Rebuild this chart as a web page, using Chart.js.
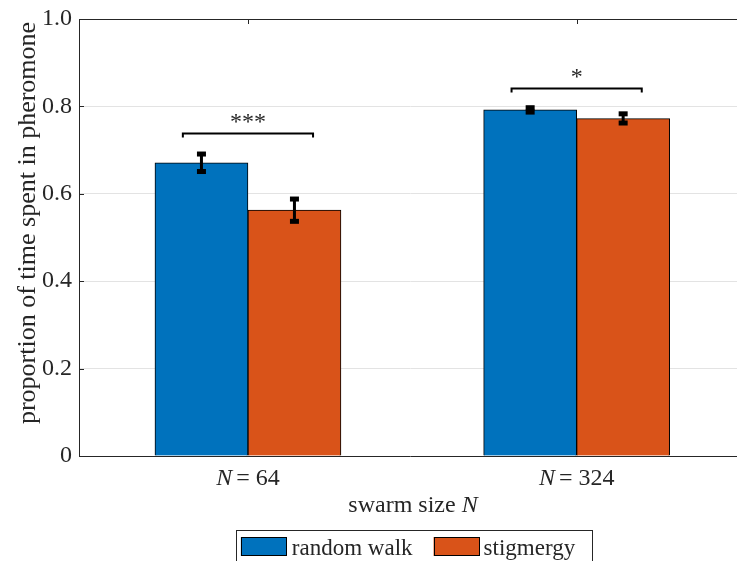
<!DOCTYPE html>
<html lang="en">
<head>
<meta charset="UTF-8">
<title>Proportion of time spent in pheromone</title>
<script src="https://cdn.jsdelivr.net/npm/chart.js"></script>
<style>
    html, body { margin: 0; padding: 0; background: #fff; overflow: hidden; }
    #wrap { position: relative; width: 745px; height: 561px; }
</style>
</head>
<body>
<div id="wrap"><canvas id="chart"></canvas></div>
<script>
// data
const swarmSizes = ['64', '324'];
const seriesNames = ['random walk', 'stigmergy'];
const seriesColors = ['#0072BD', '#D95319'];
const randomWalk = [0.671, 0.792];
const stigmergy = [0.563, 0.772];
const randomWalkLow = [0.651, 0.787];
const randomWalkHigh = [0.691, 0.797];
const stigmergyLow = [0.537, 0.762];
const stigmergyHigh = [0.588, 0.783];
const bracketLevels = [0.740, 0.842];
const bracketStars = ['***', '*'];
const yTitle = 'proportion of time spent in pheromone';

const FONT = "'Liberation Serif', 'Times New Roman', serif";
const INK = '#262626';
Chart.defaults.font.family = FONT;
Chart.defaults.color = INK;

function toPoints(values) {
    return values.map((v, i) => ({ x: i + 1, y: v }));
}

const overlay = {
    id: 'overlay',
    afterDatasetsDraw(chart) {
        const ctx = chart.ctx;
        const y = chart.scales.y;
        const lows = [randomWalkLow, stigmergyLow];
        const highs = [randomWalkHigh, stigmergyHigh];
        ctx.save();
        ctx.fillStyle = '#000';
        ctx.strokeStyle = '#000';
        // error bars
        for (let d = 0; d < 2; d++) {
            chart.getDatasetMeta(d).data.forEach((bar, i) => {
                const top = y.getPixelForValue(highs[d][i]);
                const bot = y.getPixelForValue(lows[d][i]);
                ctx.lineWidth = 3;
                ctx.beginPath();
                ctx.moveTo(bar.x, top);
                ctx.lineTo(bar.x, bot);
                ctx.stroke();
                ctx.fillRect(bar.x - 4.5, top - 2.5, 9, 5);
                ctx.fillRect(bar.x - 4.5, bot - 2.5, 9, 5);
            });
        }
        // significance brackets
        const blue = chart.getDatasetMeta(0).data;
        const orange = chart.getDatasetMeta(1).data;
        ctx.font = '24px ' + FONT;
        ctx.textAlign = 'center';
        ctx.textBaseline = 'alphabetic';
        for (let i = 0; i < bracketLevels.length; i++) {
            const x0 = blue[i].x - blue[i].width * 0.2;
            const x1 = orange[i].x + orange[i].width * 0.2;
            const yy = Math.round(y.getPixelForValue(bracketLevels[i])) + 0.5;
            ctx.lineWidth = 2;
            ctx.beginPath();
            ctx.moveTo(x0, yy + 4);
            ctx.lineTo(x0, yy);
            ctx.lineTo(x1, yy);
            ctx.lineTo(x1, yy + 4);
            ctx.stroke();
            ctx.fillStyle = INK;
            ctx.fillText(bracketStars[i], (x0 + x1) / 2, yy - 5);
        }
        ctx.restore();
    },
    afterDraw(chart) {
        const ctx = chart.ctx;
        const area = chart.chartArea;
        const x = chart.scales.x;
        const y = chart.scales.y;
        ctx.save();
        ctx.strokeStyle = INK;
        ctx.lineWidth = 1;
        // top box line and inner ticks
        ctx.beginPath();
        ctx.moveTo(area.left, Math.round(area.top) + 0.5);
        ctx.lineTo(area.right, Math.round(area.top) + 0.5);
        y.ticks.forEach(t => {
            const py = Math.round(y.getPixelForValue(t.value)) + 0.5;
            ctx.moveTo(area.left, py);
            ctx.lineTo(area.left + 5, py);
        });
        swarmSizes.forEach((s, i) => {
            const px = Math.round(x.getPixelForValue(i + 1)) + 0.5;
            ctx.moveTo(px, area.top);
            ctx.lineTo(px, area.top + 5);
        });
        ctx.stroke();

        ctx.fillStyle = INK;
        ctx.textBaseline = 'alphabetic';
        ctx.textAlign = 'left';
        const ital = 'italic 24px ' + FONT;
        const reg = '24px ' + FONT;

        // y title, rotated
        ctx.save();
        ctx.translate(28, 223);
        ctx.rotate(-Math.PI / 2);
        ctx.font = '26px ' + FONT;
        ctx.textAlign = 'center';
        ctx.textBaseline = 'middle';
        ctx.fillText(yTitle, 0, 0);
        ctx.restore();

        // x tick labels with italic N
        swarmSizes.forEach((s, i) => {
            const cx = x.getPixelForValue(i + 1);
            ctx.font = ital;
            const wN = ctx.measureText('N').width;
            ctx.font = reg;
            const wEq = ctx.measureText('=').width;
            const wS = ctx.measureText(s).width;
            const total = wN + 4 + wEq + 6 + wS;
            let sx = cx - total / 2;
            ctx.font = ital;
            ctx.fillText('N', sx, 485);
            ctx.font = reg;
            ctx.fillText('=', sx + wN + 4, 485);
            ctx.fillText(s, sx + wN + 4 + wEq + 6, 485);
        });
        // x title
        const cxt = (area.left + area.right) / 2 + 3;
        ctx.font = reg;
        const t1 = 'swarm size ';
        const w1 = ctx.measureText(t1).width;
        ctx.font = ital;
        const w2 = ctx.measureText('N').width;
        let tx = cxt - (w1 + w2) / 2;
        ctx.font = reg;
        ctx.fillText(t1, tx, 512);
        ctx.font = ital;
        ctx.fillText('N', tx + w1, 512);

        // legend with frame
        ctx.font = '23px ' + FONT;
        const sw = 46, sh = 19;
        const wA = ctx.measureText(seriesNames[0]).width;
        const wB = ctx.measureText(seriesNames[1]).width;
        const total = 5 + sw + 5 + wA + 21 + sw + 4 + wB + 17;
        const lx = 414 - total / 2;
        const ly = 530;
        ctx.strokeStyle = INK;
        ctx.strokeRect(Math.round(lx) + 0.5, ly + 0.5, Math.round(total), 60);
        let px = lx + 5;
        [0, 1].forEach(k => {
            ctx.fillStyle = seriesColors[k];
            ctx.fillRect(px, ly + 7, sw, sh);
            ctx.strokeStyle = '#000';
            ctx.strokeRect(Math.round(px) + 0.5, ly + 7.5, sw - 1, sh - 1);
            px += sw + (k === 0 ? 5 : 4);
            ctx.fillStyle = INK;
            ctx.fillText(seriesNames[k], px, ly + 25);
            px += (k === 0 ? wA : wB) + 21;
        });
        ctx.restore();
    }
};

new Chart(document.getElementById('chart'), {
    type: 'bar',
    data: {
        datasets: [{
            label: seriesNames[0],
            data: toPoints(randomWalk),
            backgroundColor: seriesColors[0],
            borderColor: '#000',
            borderWidth: 1,
            barThickness: 93
        }, {
            label: seriesNames[1],
            data: toPoints(stigmergy),
            backgroundColor: seriesColors[1],
            borderColor: '#000',
            borderWidth: 1,
            barThickness: 93
        }]
    },
    options: {
        responsive: true,
        maintainAspectRatio: false,
        devicePixelRatio: 1,
        animation: false,
        layout: { padding: { top: 19, right: 4, bottom: 0, left: 0 } },
        plugins: {
            legend: { display: false },
            tooltip: { enabled: false }
        },
        scales: {
            x: {
                type: 'linear',
                min: 0.486,
                max: 2.5,
                offset: false,
                ticks: { display: false },
                grid: { display: false, offset: false },
                border: { display: true, color: INK, width: 1 },
                afterFit(scale) { scale.height = 105; }
            },
            y: {
                min: 0,
                max: 1,
                ticks: {
                    stepSize: 0.2,
                    padding: 7,
                    font: { size: 24 },
                    color: INK,
                    callback: v => (v === 0 ? '0' : v.toFixed(1))
                },
                grid: {
                    drawTicks: false,
                    tickLength: 0,
                    color: ctx => (ctx.tick.value > 0 && ctx.tick.value < 1 ? '#e3e3e3' : 'rgba(0,0,0,0)')
                },
                border: { display: true, color: INK, width: 1 },
                afterFit(scale) {
                    scale.width = 79;
                    scale.paddingTop = 0;
                    scale.paddingBottom = 0;
                }
            }
        }
    },
    plugins: [overlay]
});
</script>
</body>
</html>
